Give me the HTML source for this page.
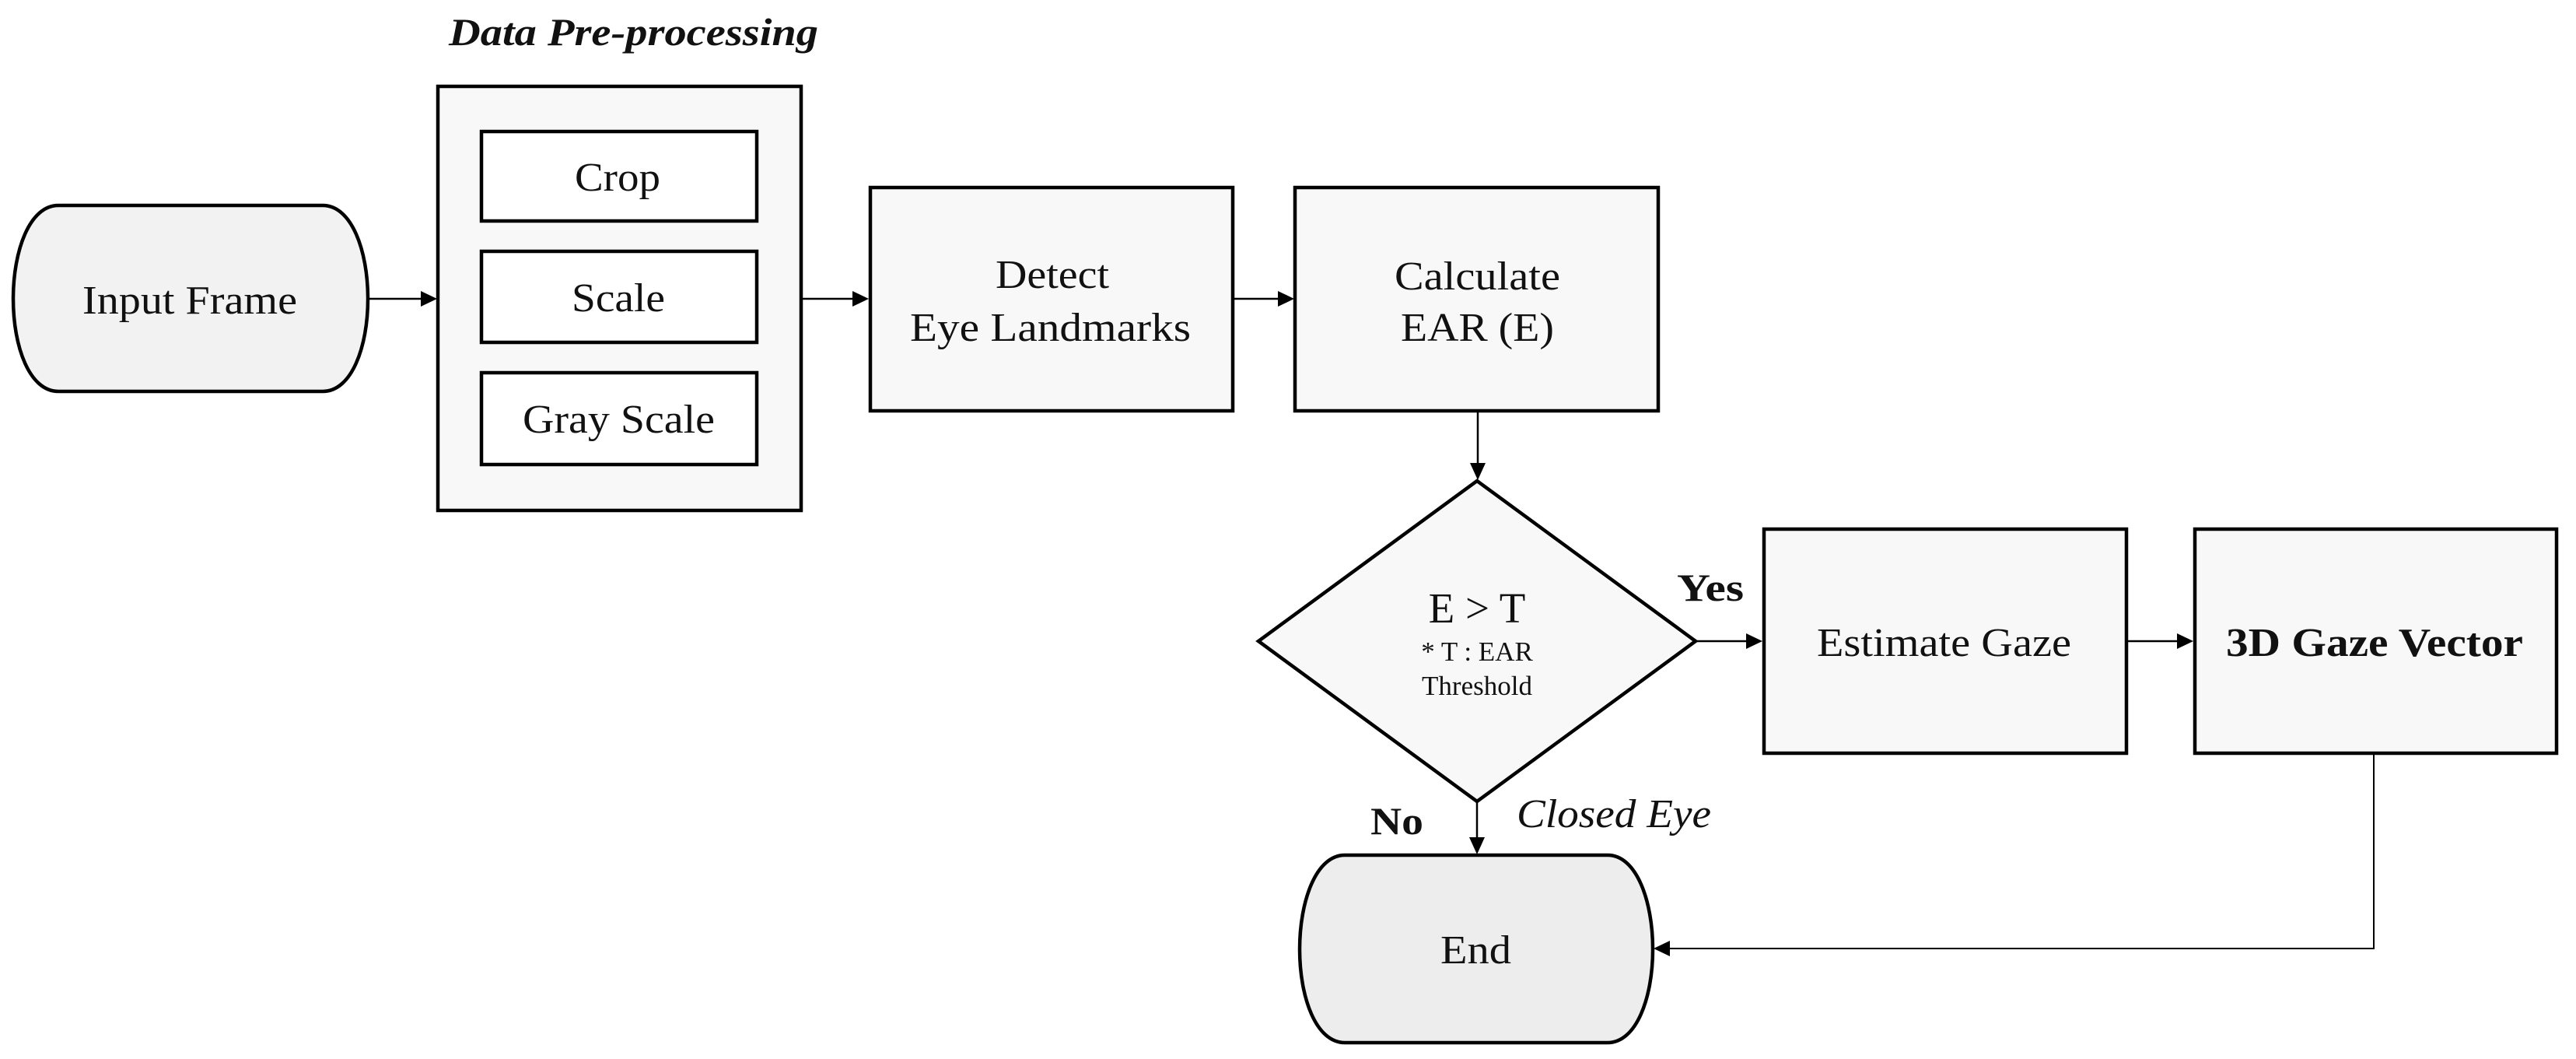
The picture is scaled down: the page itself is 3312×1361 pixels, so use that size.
<!DOCTYPE html>
<html><head><meta charset="utf-8"><style>
html,body{margin:0;padding:0;background:#fff;}
svg{display:block;}
text{font-family:"Liberation Serif",serif;fill:#111;}
</style></head><body>
<svg width="3312" height="1361" viewBox="0 0 3312 1361" xmlns="http://www.w3.org/2000/svg">
<!-- title -->
<text x="577" y="58" font-size="50" font-weight="bold" font-style="italic" textLength="475" lengthAdjust="spacingAndGlyphs">Data Pre-processing</text>

<!-- Input Frame -->
<path d="M75 264 H415 C452 264 473 322 473 384 C473 446 452 503 415 503 H75 C38 503 17 446 17 384 C17 322 38 264 75 264 Z" fill="#f1f2f1" stroke="#000" stroke-width="4.5"/>
<text x="106" y="403" font-size="52" textLength="276" lengthAdjust="spacingAndGlyphs">Input Frame</text>

<line x1="473" y1="384" x2="545" y2="384" stroke="#000" stroke-width="2.5"/>
<polygon points="562,384 541,374 541,394" fill="#000"/>

<rect x="563" y="111" width="467" height="545" fill="#f8f8f8" stroke="#000" stroke-width="4.5"/>
<rect x="619" y="169" width="354" height="115" fill="#fff" stroke="#000" stroke-width="4.5"/>
<rect x="619" y="323" width="354" height="117" fill="#fff" stroke="#000" stroke-width="4.5"/>
<rect x="619" y="479" width="354" height="118" fill="#fff" stroke="#000" stroke-width="4.5"/>
<text x="739" y="245" font-size="52" textLength="110" lengthAdjust="spacingAndGlyphs">Crop</text>
<text x="735" y="400" font-size="52" textLength="120" lengthAdjust="spacingAndGlyphs">Scale</text>
<text x="672" y="556" font-size="52" textLength="247" lengthAdjust="spacingAndGlyphs">Gray Scale</text>

<line x1="1031" y1="384" x2="1100" y2="384" stroke="#000" stroke-width="2.5"/>
<polygon points="1117,384 1096,374 1096,394" fill="#000"/>

<rect x="1119" y="241" width="466" height="287" fill="#f8f8f8" stroke="#000" stroke-width="4.5"/>
<text x="1280" y="370" font-size="52" textLength="146" lengthAdjust="spacingAndGlyphs">Detect</text>
<text x="1170" y="438" font-size="52" textLength="361" lengthAdjust="spacingAndGlyphs">Eye Landmarks</text>

<line x1="1587" y1="384" x2="1648" y2="384" stroke="#000" stroke-width="2.5"/>
<polygon points="1664,384 1643,374 1643,394" fill="#000"/>

<rect x="1665" y="241" width="467" height="287" fill="#f8f8f8" stroke="#000" stroke-width="4.5"/>
<text x="1793" y="372" font-size="52" textLength="213" lengthAdjust="spacingAndGlyphs">Calculate</text>
<text x="1801" y="438" font-size="52" textLength="197" lengthAdjust="spacingAndGlyphs">EAR (E)</text>

<line x1="1900" y1="530" x2="1900" y2="600" stroke="#000" stroke-width="2.5"/>
<polygon points="1900,617 1890,595 1910,595" fill="#000"/>

<polygon points="1899,618 2180,824 1899,1030 1618,824" fill="#f8f8f8" stroke="#000" stroke-width="4.5"/>
<text x="1899" y="800" font-size="55" text-anchor="middle">E &gt; T</text>
<text x="1899" y="849" font-size="35" text-anchor="middle">* T : EAR</text>
<text x="1899" y="893" font-size="35" text-anchor="middle">Threshold</text>

<line x1="2180" y1="824" x2="2250" y2="824" stroke="#000" stroke-width="2.5"/>
<polygon points="2266,824 2245,814 2245,834" fill="#000"/>
<text x="2156" y="772" font-size="50" font-weight="bold" textLength="86" lengthAdjust="spacingAndGlyphs">Yes</text>

<rect x="2268" y="680" width="466" height="288" fill="#f8f8f8" stroke="#000" stroke-width="4.5"/>
<text x="2336" y="843" font-size="52" textLength="327" lengthAdjust="spacingAndGlyphs">Estimate Gaze</text>

<line x1="2736" y1="824" x2="2803" y2="824" stroke="#000" stroke-width="2.5"/>
<polygon points="2820,824 2799,814 2799,834" fill="#000"/>

<rect x="2822" y="680" width="465" height="288" fill="#f8f8f8" stroke="#000" stroke-width="4.5"/>
<text x="2862" y="843" font-size="52" font-weight="bold" textLength="382" lengthAdjust="spacingAndGlyphs">3D Gaze Vector</text>

<line x1="1899" y1="1030" x2="1899" y2="1082" stroke="#000" stroke-width="2.5"/>
<polygon points="1899,1098 1889,1076 1909,1076" fill="#000"/>
<text x="1762" y="1072" font-size="50" font-weight="bold" textLength="68" lengthAdjust="spacingAndGlyphs">No</text>
<text x="1950" y="1063" font-size="52" font-style="italic" textLength="250" lengthAdjust="spacingAndGlyphs">Closed Eye</text>

<path d="M1729 1099 H2067 C2104 1099 2125 1158 2125 1220 C2125 1282 2104 1340 2067 1340 H1729 C1692 1340 1671 1282 1671 1220 C1671 1158 1692 1099 1729 1099 Z" fill="#ededed" stroke="#000" stroke-width="4.5"/>
<text x="1852" y="1238" font-size="52" textLength="91" lengthAdjust="spacingAndGlyphs">End</text>

<polyline points="3052,969 3052,1219 2142,1219" fill="none" stroke="#000" stroke-width="2"/>
<polygon points="2126,1219 2147,1209 2147,1229" fill="#000"/>
</svg>
</body></html>
